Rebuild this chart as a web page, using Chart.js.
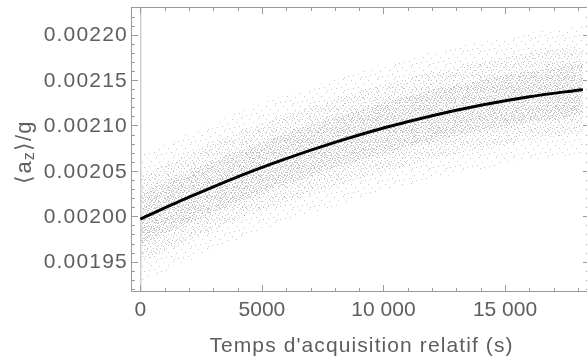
<!DOCTYPE html>
<html lang="fr">
<head>
<meta charset="UTF-8">
<title>az vs temps</title>
<script src="https://cdn.jsdelivr.net/npm/chart.js"></script>
<style>
    html, body { margin: 0; padding: 0; background: #fff; overflow: hidden; }
</style>
</head>
<body>
<canvas id="azChart" width="590" height="358"></canvas>
<script>
    // temps relatif (s) where the curve and the cloud envelopes were read
    const timeS = [0, 2000, 4000, 6000, 8000, 10000, 12000, 14000, 16000, 18000, 18200];
    // fitted mean <a_z>/g (black curve)
    const fitAz = [0.001997, 0.002021, 0.0020435, 0.0020635, 0.0020814, 0.0020972, 0.0021108, 0.0021223, 0.0021317, 0.0021389, 0.0021395];
    // dense core of the measurement cloud
    const coreHigh = [0.002025, 0.002049, 0.0020715, 0.0020915, 0.0021094, 0.0021252, 0.0021388, 0.0021503, 0.0021597, 0.0021669, 0.0021675];
    const coreLow  = [0.001969, 0.001993, 0.0020155, 0.0020355, 0.0020534, 0.0020692, 0.0020828, 0.0020943, 0.0021037, 0.0021109, 0.0021115];
    // medium density part of the cloud
    const midHigh = [0.002045, 0.002069, 0.002092, 0.002112, 0.002129, 0.002145, 0.002159, 0.00217, 0.00218, 0.002187, 0.002188];
    const midLow  = [0.001949, 0.001973, 0.001996, 0.002016, 0.002033, 0.002049, 0.002063, 0.002074, 0.002084, 0.002091, 0.002092];
    // sparse outer points of the cloud
    const outerHigh = [0.002067, 0.002091, 0.002114, 0.002134, 0.002151, 0.002167, 0.002181, 0.002192, 0.002202, 0.002209, 0.00221];
    const outerLow  = [0.001927, 0.001951, 0.001974, 0.001994, 0.002011, 0.002027, 0.002041, 0.002052, 0.002062, 0.002069, 0.00207];

    const xTicks = [0, 5000, 10000, 15000];
    const yTicks = [0.00195, 0.002, 0.00205, 0.0021, 0.00215, 0.0022];

    const FONT = '"Liberation Sans", Arial, sans-serif';
    const TEXT = '#5e5e5e';
    const FRAME = '#9a9a9a';
    const DOT = '#c6c6c6';

    // small dotted tiles to look like a point cloud
    function dotPattern(w, h, dots) {
        const c = document.createElement('canvas');
        c.width = w; c.height = h;
        const g = c.getContext('2d');
        g.fillStyle = DOT;
        dots.forEach(d => g.fillRect(d[0], d[1], 1, 1));
        return g.createPattern(c, 'repeat');
    }
    const sparseDots = dotPattern(17, 13, [[3, 1], [11, 2], [15, 5], [6, 6], [1, 9], [13, 10], [8, 11], [4, 12]]);
    const midDots = dotPattern(13, 11, [[0, 0], [5, 1], [9, 1], [2, 3], [7, 4], [12, 3], [4, 6], [10, 6],
        [1, 7], [8, 8], [11, 9], [3, 9], [6, 10], [12, 10]]);
    const coreDots = dotPattern(11, 10, [[1, 0], [4, 0], [8, 1], [0, 2], [6, 2], [10, 2], [3, 3], [7, 4],
        [1, 5], [5, 5], [9, 5], [3, 6], [8, 7], [0, 8], [5, 8], [10, 8], [2, 9], [7, 9], [4, 2], [9, 0], [6, 6], [2, 7]]);

    const pts = arr => timeS.map((t, i) => ({x: t, y: arr[i]}));
    const edge = (arr, fillTo, pattern) => ({
        data: pts(arr), borderWidth: 0, pointRadius: 0, tension: 0,
        fill: fillTo, backgroundColor: pattern || 'transparent', order: 5
    });

    const framePlugin = {
        id: 'framePlugin',
        afterDraw(chart) {
            const {ctx, chartArea: a, scales: {x, y}} = chart;
            ctx.save();
            ctx.strokeStyle = FRAME;
            ctx.lineWidth = 1;
            ctx.beginPath();
            ctx.moveTo(a.right, a.top + 0.5); ctx.lineTo(a.left + 0.5, a.top + 0.5);
            ctx.lineTo(a.left + 0.5, a.bottom - 0.5); ctx.lineTo(a.right, a.bottom - 0.5);
            for (let v = 0; v <= 18000; v += 1000) {
                const px = Math.round(x.getPixelForValue(v)) + 0.5;
                const len = v % 5000 === 0 ? 7 : 4;
                ctx.moveTo(px, a.bottom); ctx.lineTo(px, a.bottom - len);
                ctx.moveTo(px, a.top); ctx.lineTo(px, a.top + len);
            }
            for (let k = 192; k <= 223; k++) {
                const v = k / 100000;
                const py = Math.round(y.getPixelForValue(v)) + 0.5;
                const len = k % 5 === 0 ? 7 : 4;
                ctx.moveTo(a.left, py); ctx.lineTo(a.left + len, py);
                ctx.moveTo(a.right, py); ctx.lineTo(a.right - len, py);
            }
            ctx.stroke();

            ctx.fillStyle = TEXT;
            ctx.letterSpacing = '1.2px';
            ctx.font = '21px ' + FONT;

            // y tick labels
            ctx.textAlign = 'right';
            ctx.textBaseline = 'middle';
            yTicks.forEach(v => ctx.fillText(v.toFixed(5), a.left - 3, y.getPixelForValue(v) + 1));

            // axis titles
            ctx.letterSpacing = '1.1px';
            ctx.textAlign = 'center';
            ctx.textBaseline = 'alphabetic';
            ctx.fillText("Temps d'acquisition relatif (s)", 361.5, 352);

            ctx.translate(31, 152);
            ctx.rotate(-Math.PI / 2);
            const p1 = '\u27E8a', sub = 'z', p2 = '\u27E9/g';
            ctx.font = '22px ' + FONT;
            const w1 = ctx.measureText(p1).width, w3 = ctx.measureText(p2).width;
            ctx.font = '16px ' + FONT;
            const w2 = ctx.measureText(sub).width;
            let cx = -(w1 + w2 + w3) / 2;
            ctx.textAlign = 'left';
            ctx.font = '22px ' + FONT;
            ctx.fillText(p1, cx, 0); cx += w1;
            ctx.font = '16px ' + FONT;
            ctx.fillText(sub, cx, 3); cx += w2;
            ctx.font = '22px ' + FONT;
            ctx.fillText(p2, cx, 0);
            ctx.restore();
        }
    };

    new Chart(document.getElementById('azChart'), {
        type: 'line',
        data: {
            datasets: [
                {data: pts(fitAz), borderColor: '#000', borderWidth: 3, pointRadius: 0, tension: 0.3, fill: false, order: 0},
                edge(coreHigh, '+1', coreDots),
                edge(coreLow, false),
                edge(midHigh, '+1', midDots),
                edge(midLow, false),
                edge(outerHigh, '+1', sparseDots),
                edge(outerLow, false)
            ]
        },
        plugins: [framePlugin],
        options: {
            responsive: false,
            animation: false,
            layout: {padding: {top: 7, right: 0, left: 0, bottom: 0}},
            plugins: {legend: {display: false}, tooltip: {enabled: false}},
            scales: {
                x: {
                    type: 'linear', min: -383, max: 18495,
                    afterFit: s => { s.height = 66; s.paddingLeft = 0; s.paddingRight = 0; },
                    afterBuildTicks: s => { s.ticks = xTicks.map(v => ({value: v})); },
                    grid: {
                        drawTicks: false,
                        color: c => (c.tick && c.tick.value === 0 ? '#cfcfcf' : 'transparent'),
                        lineWidth: 1.5
                    },
                    border: {display: false},
                    ticks: {
                        padding: 6, color: TEXT, font: {size: 21, family: FONT},
                        maxRotation: 0,
                        callback: v => (v >= 10000 ? String(v).replace(/(\d{3})$/, ' $1') : String(v))
                    }
                },
                y: {
                    type: 'linear', min: 0.0019166, max: 0.0022305,
                    afterFit: s => { s.width = 131; s.paddingTop = 0; s.paddingBottom = 0; },
                    afterBuildTicks: s => { s.ticks = yTicks.map(v => ({value: v})); },
                    grid: {display: false, drawTicks: false},
                    border: {display: false},
                    ticks: {display: false}
                }
            }
        }
    });
</script>
</body>
</html>
